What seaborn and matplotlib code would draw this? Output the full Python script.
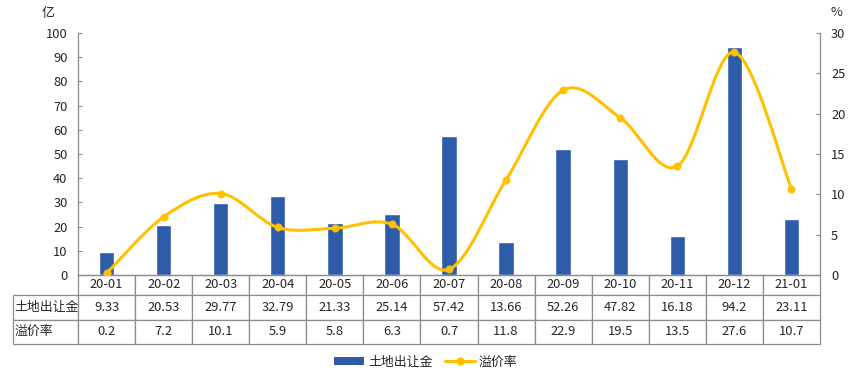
import numpy as np
import matplotlib
matplotlib.use("Agg")
import matplotlib.pyplot as plt
import seaborn as sns
from matplotlib.path import Path as MPath
from matplotlib.patches import PathPatch, Patch
from matplotlib.lines import Line2D

months = ["20-01", "20-02", "20-03", "20-04", "20-05", "20-06", "20-07",
          "20-08", "20-09", "20-10", "20-11", "20-12", "21-01"]
land_fee = [9.33, 20.53, 29.77, 32.79, 21.33, 25.14, 57.42,
            13.66, 52.26, 47.82, 16.18, 94.2, 23.11]
premium = [0.2, 7.2, 10.1, 5.9, 5.8, 6.3, 0.7,
           11.8, 22.9, 19.5, 13.5, 27.6, 10.7]
bar_name = "土地出让金"
line_name = "溢价率"

BAR_COLOR = "#2F5CA8"
LINE_COLOR = "#FFC000"
GRID_GRAY = "#8C8C8C"
FS = 9.3

sns.set_style("white")
plt.rcParams["font.family"] = ["Noto Sans CJK SC", "DejaVu Sans"]
plt.rcParams["font.size"] = FS

W, H = 864, 377
fig = plt.figure(figsize=(W / 100, H / 100), dpi=100)
ax = fig.add_axes([78 / W, 1 - 275 / H, 742 / W, 242 / H])

sns.barplot(x=months, y=land_fee, color=BAR_COLOR, width=0.27,
            saturation=1, ax=ax)
ax.set_xlim(-0.5, len(months) - 0.5)
ax.set_ylim(0, 100)
ax.set_yticks(np.arange(0, 101, 10))
ax.set_xlabel("")
ax.set_ylabel("")
ax.set_xticks([])

ax2 = ax.twinx()
ax2.set_ylim(0, 30)
ax2.set_yticks(np.arange(0, 31, 5))

# smooth line (Excel-style bezier through the points)
xs = np.arange(len(premium), dtype=float)
ys = np.array(premium, dtype=float)
pts = np.column_stack([xs, ys])
verts = [pts[0]]
codes = [MPath.MOVETO]
n = len(pts)
for i in range(n - 1):
    p_prev = pts[i - 1] if i > 0 else pts[i]
    p_next2 = pts[i + 2] if i + 2 < n else pts[i + 1]
    c1 = pts[i] + (pts[i + 1] - p_prev) / 6
    c2 = pts[i + 1] - (p_next2 - pts[i]) / 6
    verts += [c1, c2, pts[i + 1]]
    codes += [MPath.CURVE4] * 3
ax2.add_patch(PathPatch(MPath(verts, codes), facecolor="none",
                        edgecolor=LINE_COLOR, lw=2.2, zorder=3,
                        capstyle="round"))
sns.scatterplot(x=xs, y=ys, color=LINE_COLOR, s=28, edgecolor=LINE_COLOR,
                zorder=4, ax=ax2, legend=False)
ax2.set_xlim(-0.5, len(months) - 0.5)

for a in (ax, ax2):
    for s in a.spines.values():
        s.set_color(GRID_GRAY)
        s.set_linewidth(0.9)
    a.spines["top"].set_visible(False)
ax.spines["right"].set_visible(False)
ax2.spines["left"].set_visible(False)
ax2.spines["bottom"].set_visible(False)
ax.tick_params(axis="y", direction="in", length=3, color=GRID_GRAY,
               pad=7.5, labelsize=FS, left=True)
ax2.tick_params(axis="y", direction="in", length=3, color=GRID_GRAY,
                pad=8, labelsize=FS, right=True)

# data table under the axis: first column holds the row names
cell_text = [[""] + months,
             [bar_name] + [f"{v:g}" for v in land_fee],
             [line_name] + [f"{v:g}" for v in premium]]
col_w = [65] + [742 / len(months)] * len(months)
tbl = ax.table(cellText=cell_text, colWidths=[w / 807 for w in col_w],
               cellLoc="center",
               bbox=[(13 - 78) / 742, -69 / 242, 807 / 742, 69 / 242])
tbl.auto_set_font_size(False)
tbl.set_fontsize(FS)
for (r, c), cell in tbl.get_celld().items():
    cell.set_edgecolor(GRID_GRAY)
    cell.set_linewidth(0.9)
    cell.set_height(20 if r == 0 else 24.5)
    if c == 0:
        cell.get_text().set_horizontalalignment("left")
        cell.PAD = 0.02
    if r == 0 and c == 0:
        cell.visible_edges = ""

fig.text(48 / W, 1 - 13 / H, "亿", ha="center", va="center", fontsize=FS)
fig.text(836 / W, 1 - 13 / H, "%", ha="center", va="center", fontsize=FS)

handles = [Patch(facecolor=BAR_COLOR, edgecolor="none"),
           Line2D([], [], color=LINE_COLOR, lw=2.2, marker="o", markersize=5)]
fig.legend(handles, [bar_name, line_name], loc="center",
           bbox_to_anchor=(426 / W, 1 - 362 / H), ncol=2, frameon=False,
           fontsize=FS, handlelength=2.3, handleheight=0.55,
           columnspacing=1.0, handletextpad=0.3)

fig.savefig("out.png", dpi=100)
